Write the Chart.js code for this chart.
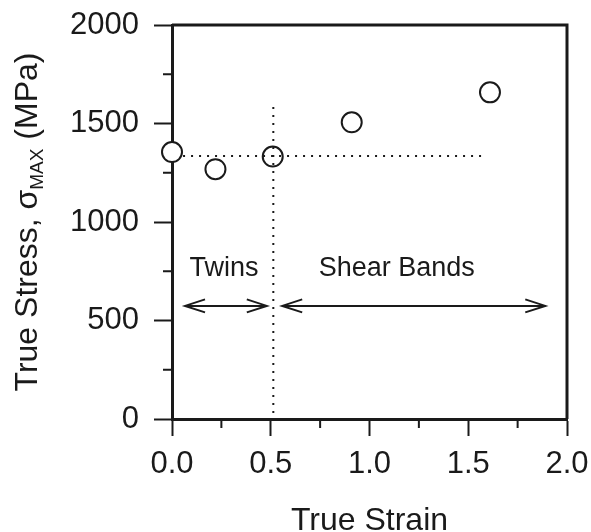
<!DOCTYPE html>
<html lang="en">
<head>
    <meta charset="UTF-8">
    <title>True Stress vs True Strain</title>
    <script src="https://cdn.jsdelivr.net/npm/chart.js"></script>
    <style>
        body {
            margin: 0;
            padding: 0;
            background: white;
        }
        #wrap {
            width: 591px;
            height: 532px;
        }
    </style>
</head>
<body>
    <div id="wrap">
        <canvas id="stressChart" width="591" height="532"></canvas>
    </div>

    <script>
        // measured points
        const strain = [0.0, 0.22, 0.51, 0.91, 1.61];
        const stress = [1355, 1268, 1332, 1506, 1658];

        // dotted guide lines
        const hLineX = [0.056, 1.57];
        const hLineY = [1335, 1335];
        const vLineX = [0.513, 0.513];
        const vLineY = [30, 1610];

        // regime arrows
        const twinsX = [0.066, 0.48];
        const shearX = [0.558, 1.89];
        const arrowY = 574;

        // regime labels
        const labelText = ["Twins", "Shear Bands"];
        const labelX = [0.263, 1.138];
        const labelY = [766, 766];

        // axes
        const xTicks = [0, 0.5, 1.0, 1.5, 2.0];
        const yTicks = [0, 500, 1000, 1500, 2000];
        const xMinor = [0.25, 0.75, 1.25, 1.75];
        const yMinor = [250, 750, 1250, 1750];

        const FONT = '"Liberation Sans", Arial, sans-serif';
        const INK = '#1a1a1a';

        function pts(xs, ys) {
            return xs.map((x, i) => ({ x: x, y: Array.isArray(ys) ? ys[i] : ys }));
        }

        // frame, minor ticks, arrow heads, labels and the y title
        const extras = {
            id: 'extras',
            afterDatasetsDraw(chart) {
                const ctx = chart.ctx;
                const xs = chart.scales.x;
                const ys = chart.scales.y;
                const area = chart.chartArea;
                ctx.save();
                ctx.strokeStyle = INK;
                ctx.fillStyle = INK;

                // top + right border
                ctx.lineWidth = 3;
                ctx.beginPath();
                ctx.moveTo(area.left, area.top);
                ctx.lineTo(area.right, area.top);
                ctx.lineTo(area.right, area.bottom);
                ctx.stroke();

                // minor ticks
                ctx.lineWidth = 2;
                ctx.beginPath();
                yMinor.forEach(v => {
                    const py = ys.getPixelForValue(v);
                    ctx.moveTo(area.left - 9, py);
                    ctx.lineTo(area.left, py);
                });
                xMinor.forEach(v => {
                    const px = xs.getPixelForValue(v);
                    ctx.moveTo(px, area.bottom);
                    ctx.lineTo(px, area.bottom + 9);
                });
                ctx.stroke();

                // open arrow heads
                const py = ys.getPixelForValue(arrowY);
                [twinsX, shearX].forEach(pair => {
                    const a = xs.getPixelForValue(pair[0]);
                    const b = xs.getPixelForValue(pair[1]);
                    ctx.beginPath();
                    ctx.moveTo(a + 20, py - 6.5);
                    ctx.lineTo(a, py);
                    ctx.lineTo(a + 20, py + 6.5);
                    ctx.moveTo(b - 20, py - 6.5);
                    ctx.lineTo(b, py);
                    ctx.lineTo(b - 20, py + 6.5);
                    ctx.stroke();
                });

                // regime labels
                ctx.font = '27px ' + FONT;
                ctx.textAlign = 'center';
                ctx.textBaseline = 'middle';
                labelText.forEach((t, i) => {
                    ctx.fillText(t, xs.getPixelForValue(labelX[i]), ys.getPixelForValue(labelY[i]));
                });

                // y title with subscript
                const big = '32px ' + FONT;
                const small = '19px ' + FONT;
                const parts = [
                    { t: 'True Stress, \u03C3', f: big, dy: 0 },
                    { t: 'MAX', f: small, dy: 6 },
                    { t: ' (MPa)', f: big, dy: 0 }
                ];
                let total = 0;
                parts.forEach(p => { ctx.font = p.f; p.w = ctx.measureText(p.t).width; total += p.w; });
                ctx.translate(37, (area.top + area.bottom) / 2);
                ctx.rotate(-Math.PI / 2);
                ctx.textAlign = 'left';
                ctx.textBaseline = 'alphabetic';
                let cx = -total / 2;
                parts.forEach(p => {
                    ctx.font = p.f;
                    ctx.fillText(p.t, cx, p.dy);
                    cx += p.w;
                });
                ctx.restore();
            }
        };

        const ctx = document.getElementById('stressChart').getContext('2d');
        new Chart(ctx, {
            type: 'scatter',
            data: {
                datasets: [
                    {
                        label: 'Guide H',
                        type: 'line',
                        data: pts(hLineX, hLineY),
                        borderColor: INK,
                        borderWidth: 2,
                        borderDash: [2, 6],
                        pointRadius: 0,
                        fill: false,
                        order: 0
                    },
                    {
                        label: 'Guide V',
                        type: 'line',
                        data: pts(vLineX, vLineY),
                        borderColor: INK,
                        borderWidth: 2,
                        borderDash: [2, 6],
                        pointRadius: 0,
                        fill: false,
                        order: 0
                    },
                    {
                        label: 'Twins',
                        type: 'line',
                        data: pts(twinsX, arrowY),
                        borderColor: INK,
                        borderWidth: 2,
                        pointRadius: 0,
                        fill: false,
                        order: 0
                    },
                    {
                        label: 'Shear Bands',
                        type: 'line',
                        data: pts(shearX, arrowY),
                        borderColor: INK,
                        borderWidth: 2,
                        pointRadius: 0,
                        fill: false,
                        order: 0
                    },
                    {
                        label: 'Max stress',
                        data: pts(strain, stress),
                        pointStyle: 'circle',
                        pointRadius: 10,
                        pointBorderWidth: 2,
                        pointBorderColor: INK,
                        pointBackgroundColor: 'white',
                        clip: false,
                        order: 1
                    }
                ]
            },
            options: {
                responsive: false,
                animation: false,
                layout: {
                    autoPadding: false,
                    padding: { left: 0, top: 25, right: 24, bottom: 0 }
                },
                plugins: {
                    legend: { display: false },
                    tooltip: { enabled: false }
                },
                scales: {
                    x: {
                        type: 'linear',
                        min: 0,
                        max: 2,
                        afterFit: s => {
                            s.height = 113;
                            s.paddingLeft = 0;
                            s.paddingRight = 0;
                        },
                        afterBuildTicks: s => { s.ticks = xTicks.map(v => ({ value: v })); },
                        ticks: {
                            font: { family: FONT, size: 31 },
                            color: INK,
                            padding: 10,
                            maxRotation: 0,
                            callback: v => Number(v).toFixed(1)
                        },
                        grid: {
                            drawOnChartArea: false,
                            drawTicks: true,
                            tickLength: 17,
                            tickWidth: 2,
                            tickColor: INK
                        },
                        border: { display: true, color: INK, width: 3 },
                        title: {
                            display: true,
                            text: 'True Strain',
                            color: INK,
                            font: { family: FONT, size: 32, lineHeight: 0.7 },
                            padding: { top: 0, bottom: 0 }
                        }
                    },
                    y: {
                        type: 'linear',
                        min: 0,
                        max: 2000,
                        afterFit: s => {
                            s.width = 172;
                            s.paddingTop = 0;
                            s.paddingBottom = 0;
                        },
                        afterBuildTicks: s => { s.ticks = yTicks.map(v => ({ value: v })); },
                        ticks: {
                            font: { family: FONT, size: 31 },
                            color: INK,
                            padding: 15,
                            callback: v => String(v)
                        },
                        grid: {
                            drawOnChartArea: false,
                            drawTicks: true,
                            tickLength: 18,
                            tickWidth: 2,
                            tickColor: INK
                        },
                        border: { display: true, color: INK, width: 3 }
                    }
                }
            },
            plugins: [extras]
        });
    </script>
</body>
</html>
